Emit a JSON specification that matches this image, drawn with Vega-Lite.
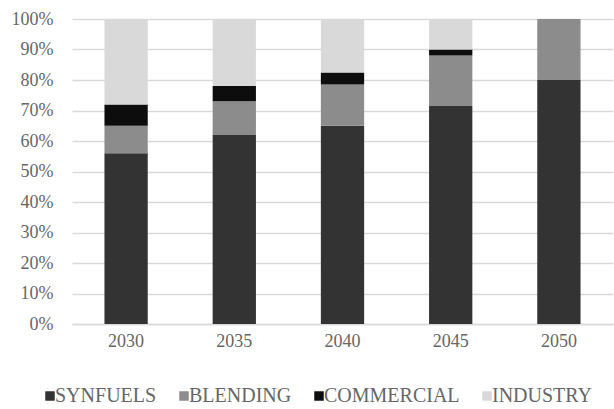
{
  "$schema": "https://vega.github.io/schema/vega-lite/v6.json",
  "autosize": {"type": "none"},
  "width": 541,
  "height": 305,
  "padding": {"left": 72, "top": 19, "right": 1, "bottom": 85},
  "background": "white",
  "config": {
    "view": {"stroke": null},
    "font": "Liberation Serif",
    "axis": {"labelFont": "Liberation Serif", "labelColor": "#666666", "labelFontSize": 18, "titleFont": "Liberation Serif"},
    "legend": {"labelFont": "Liberation Serif", "labelColor": "#666666", "labelFontSize": 20}
  },
  "data": {
    "values": [
      {"year": "2030", "cat": "SYNFUELS", "k": 1, "v": 56},
      {"year": "2030", "cat": "BLENDING", "k": 2, "v": 9},
      {"year": "2030", "cat": "COMMERCIAL", "k": 3, "v": 7},
      {"year": "2030", "cat": "INDUSTRY", "k": 4, "v": 28},
      {"year": "2035", "cat": "SYNFUELS", "k": 1, "v": 62},
      {"year": "2035", "cat": "BLENDING", "k": 2, "v": 11},
      {"year": "2035", "cat": "COMMERCIAL", "k": 3, "v": 5},
      {"year": "2035", "cat": "INDUSTRY", "k": 4, "v": 22},
      {"year": "2040", "cat": "SYNFUELS", "k": 1, "v": 65},
      {"year": "2040", "cat": "BLENDING", "k": 2, "v": 13.5},
      {"year": "2040", "cat": "COMMERCIAL", "k": 3, "v": 4},
      {"year": "2040", "cat": "INDUSTRY", "k": 4, "v": 17.5},
      {"year": "2045", "cat": "SYNFUELS", "k": 1, "v": 71.5},
      {"year": "2045", "cat": "BLENDING", "k": 2, "v": 16.5},
      {"year": "2045", "cat": "COMMERCIAL", "k": 3, "v": 2},
      {"year": "2045", "cat": "INDUSTRY", "k": 4, "v": 10},
      {"year": "2050", "cat": "SYNFUELS", "k": 1, "v": 80},
      {"year": "2050", "cat": "BLENDING", "k": 2, "v": 20},
      {"year": "2050", "cat": "COMMERCIAL", "k": 3, "v": 0},
      {"year": "2050", "cat": "INDUSTRY", "k": 4, "v": 0}
    ]
  },
  "mark": {"type": "bar"},
  "encoding": {
    "x": {
      "field": "year", "type": "nominal", "title": null,
      "scale": {"paddingInner": 0.6, "paddingOuter": 0.3},
      "axis": {"labelAngle": 0, "ticks": false, "domainColor": "#d9d9d9", "domainWidth": 1.5, "labelPadding": 8}
    },
    "y": {
      "field": "v", "type": "quantitative", "stack": "normalize", "title": null,
      "scale": {"domain": [0, 1]},
      "axis": {"format": ".0%", "values": [0, 0.1, 0.2, 0.3, 0.4, 0.5, 0.6, 0.7, 0.8, 0.9, 1], "ticks": false, "domain": false, "gridColor": "#d9d9d9", "gridWidth": 1.5, "labelPadding": 19}
    },
    "color": {
      "field": "cat", "type": "nominal", "title": null,
      "scale": {"domain": ["SYNFUELS", "BLENDING", "COMMERCIAL", "INDUSTRY"], "range": ["#333333", "#8c8c8c", "#0d0d0d", "#d9d9d9"]},
      "legend": {"orient": "none", "legendX": -32, "legendY": 367, "direction": "horizontal", "symbolType": "square", "symbolSize": 90, "labelOffset": -5, "columnPadding": 17, "symbolStrokeWidth": 0}
    },
    "order": {"field": "k", "type": "quantitative"}
  }
}
